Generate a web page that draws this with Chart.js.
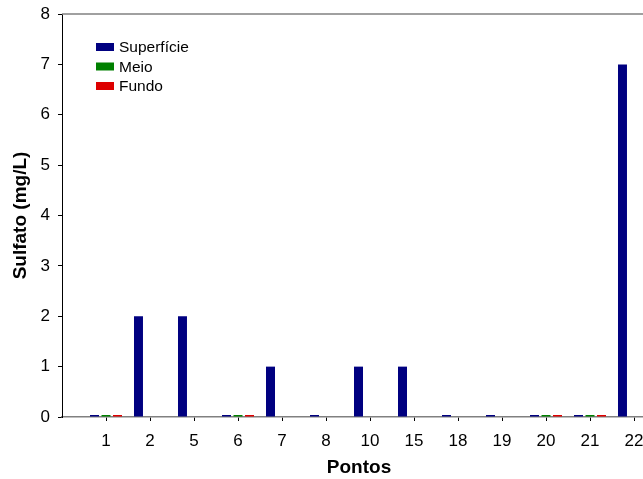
<!DOCTYPE html>
<html>
<head>
<meta charset="utf-8">
<script src="https://cdn.jsdelivr.net/npm/chart.js@4/dist/chart.umd.min.js"></script>
<style>
  html, body { margin: 0; padding: 0; background: #fff; overflow: hidden; }
  #wrap { position: relative; width: 656px; height: 479px; }
</style>
</head>
<body>
<div id="wrap"><canvas id="chart"></canvas></div>
<script>
// Sampling points and sulfate concentrations (mg/L) by depth
const pontos     = ['1', '2', '5', '6', '7', '8', '10', '15', '18', '19', '20', '21', '22'];
const superficie = [0, 2, 2, 0, 1, 0, 1, 1, 0, 0, 0, 0, 7];
const meio       = [0, null, null, 0, null, null, null, null, null, null, 0, 0, null];
const fundo      = [0, null, null, 0, null, null, null, null, null, null, 0, 0, null];
const yTicks     = [0, 1, 2, 3, 4, 5, 6, 7, 8];

const FONT = 'Arial, "Liberation Sans", sans-serif';

const toPoints = arr => arr.map((v, i) => ({ x: i + 1, y: v }));

// Vertical legend inside the plot plus the top frame line
const insideLegend = {
  id: 'insideLegend',
  afterDraw(chart) {
    const { ctx, chartArea } = chart;
    ctx.save();
    ctx.strokeStyle = '#808080';
    ctx.lineWidth = 1.5;
    ctx.beginPath();
    ctx.moveTo(chartArea.left, chartArea.top);
    ctx.lineTo(chartArea.right, chartArea.top);
    ctx.stroke();

    const x = chartArea.left + 34;
    const y0 = chartArea.top + 33;
    ctx.font = '15.5px ' + FONT;
    ctx.textBaseline = 'middle';
    ctx.textAlign = 'left';
    chart.data.datasets.forEach((ds, i) => {
      const y = y0 + i * 19.5;
      ctx.fillStyle = ds.backgroundColor;
      ctx.fillRect(x, y - 4, 18, 8);
      ctx.fillStyle = '#000';
      ctx.fillText(ds.label, x + 23, y + 1);
    });
    ctx.restore();
  }
};

new Chart(document.getElementById('chart'), {
  type: 'bar',
  data: {
    datasets: [
      { label: 'Superfície', data: toPoints(superficie), backgroundColor: '#000080' },
      { label: 'Meio',       data: toPoints(meio),       backgroundColor: '#008000' },
      { label: 'Fundo',      data: toPoints(fundo),      backgroundColor: '#dd0000' }
    ]
  },
  options: {
    responsive: true,
    maintainAspectRatio: false,
    animation: false,
    layout: { padding: { top: 14, left: 0, right: 0, bottom: 0 } },
    datasets: {
      bar: {
        categoryPercentage: 0.785,
        barPercentage: 0.78,
        minBarLength: 2,
        clip: false
      }
    },
    plugins: {
      legend: { display: false },
      tooltip: { enabled: false }
    },
    scales: {
      x: {
        type: 'linear',
        offset: false,
        min: 0,
        max: 13.5,
        afterBuildTicks: s => { s.ticks = pontos.map((_, i) => ({ value: i + 1 })); },
        afterFit: s => { s.height = 62; s.paddingLeft = 0; s.paddingRight = 0; },
        ticks: {
          autoSkip: false,
          maxRotation: 0,
          padding: 10,
          color: '#000',
          font: { family: FONT, size: 17 },
          callback: v => pontos[v - 1] ?? ''
        },
        grid: { offset: false, drawOnChartArea: false, drawTicks: true, tickLength: 4, color: '#000' },
        border: { display: true, color: '#808080', width: 1.5 },
        title: {
          display: true,
          text: 'Pontos',
          color: '#000',
          font: { family: FONT, size: 19, weight: 'bold' },
          padding: { top: 0, bottom: 0 }
        }
      },
      y: {
        min: 0,
        max: 8,
        afterBuildTicks: s => { s.ticks = yTicks.map(v => ({ value: v })); },
        afterFit: s => { s.width = 62; s.paddingTop = 0; s.paddingBottom = 0; },
        ticks: {
          padding: 8,
          color: '#000',
          font: { family: FONT, size: 17 }
        },
        grid: { drawOnChartArea: false, drawTicks: true, tickLength: 4, color: '#000' },
        border: { display: true, color: '#000', width: 1 },
        title: {
          display: true,
          text: 'Sulfato (mg/L)',
          color: '#000',
          font: { family: FONT, size: 19, weight: 'bold' },
          padding: { top: 9, bottom: 0 }
        }
      }
    }
  },
  plugins: [insideLegend]
});
</script>
</body>
</html>
